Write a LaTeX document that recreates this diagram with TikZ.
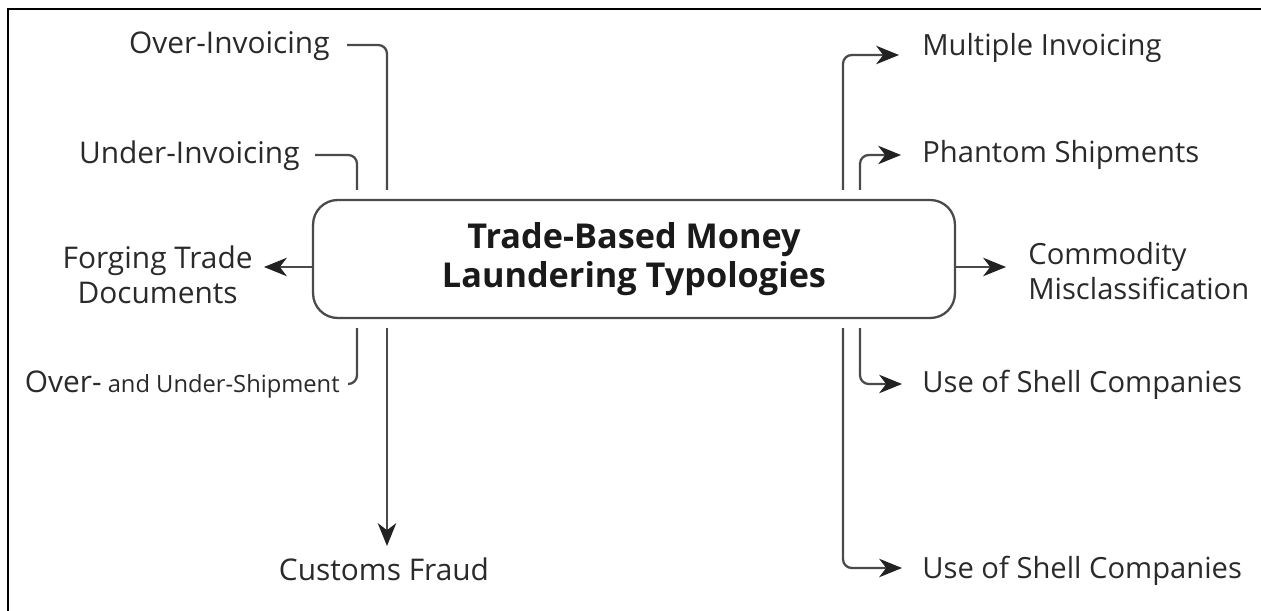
\documentclass[tikz,border=0pt]{standalone}
\usepackage{fontspec}
\setmainfont{Open Sans}
\usetikzlibrary{arrows.meta}
\definecolor{txt}{HTML}{2A2A2A}
\definecolor{ink}{HTML}{1A1A1A}
\definecolor{wire}{HTML}{4A4A4A}
\definecolor{tipc}{HTML}{222222}
\tikzset{
  lbl/.style={inner sep=0pt, text=txt, font=\fontsize{17}{20}\selectfont},
  rlbl/.style={lbl, font=\fontsize{16.6}{20}\selectfont},
  twoline/.style={lbl, align=center, font=\fontsize{17}{20}\selectfont},
  mainbox/.style={draw=wire, line width=1.3pt, rounded corners=14pt,
    minimum width=12.84cm, minimum height=2.36cm, align=center, text=ink,
    font=\bfseries\fontsize{19.5}{22.5}\selectfont},
  conn/.style={draw=wire, line width=1.3pt, rounded corners=5pt},
  arr/.style={conn, -{Stealth[length=13pt,width=10.5pt,inset=4pt,color=tipc]}},
}
\begin{document}
\begin{tikzpicture}[x=0.02cm,y=-0.02cm]
\useasboundingbox (0,0) rectangle (1261,611);
% outer frame
\draw[line width=1.2pt, black] (8,611) -- (8,9) -- (1261,9);

% central box
\node[mainbox] (tb) at (634,259) {Trade-Based Money\\Laundering Typologies};

% left labels
\node[lbl, anchor=base east] (oi) at (330,54) {Over-Invoicing};
\node[lbl, anchor=base east] (ui) at (300,164) {Under-Invoicing};
\node[twoline, anchor=east] (fg) at (253,275) {Forging Trade\\Documents};
\node[lbl, anchor=base east] (ous) at (340,392) {Over-{\fontsize{13.5}{16}\selectfont\ and Under-Shipment}};
\node[lbl, anchor=base] (cf) at (384,580) {Customs Fraud};

% right labels
\node[rlbl, anchor=base west] (mi) at (922,56) {Multiple Invoicing};
\node[rlbl, anchor=base west] (ps) at (922,163) {Phantom Shipments};
\node[twoline, rlbl, anchor=west, align=left] (cm) at (1028,271) {Commodity\\Misclassification};
\node[rlbl, anchor=base west] (sc1) at (922,392) {Use of Shell Companies};
\node[rlbl, anchor=base west] (sc2) at (922,578) {Use of Shell Companies};

% connector end points next to the box
\coordinate (oiE) at (387,190);
\coordinate (uiE) at (357,190);
\coordinate (ousS) at (357,328);
\coordinate (cfS) at (387,328);
\coordinate (cfE) at (387,546);
\coordinate (miS) at (843,190);
\coordinate (psS) at (860,190);
\coordinate (sc1S) at (860,328);
\coordinate (sc2S) at (843,328);

% incoming lines (left, top)
\draw[conn] ([xshift=0.34cm]oi.east |- 0,45) -| (oiE);
\draw[conn] ([xshift=0.30cm]ui.east |- 0,155) -| (uiE);
\draw[conn] (ousS) |- ([xshift=0.16cm]ous.east |- 0,384);

% outgoing arrows
\draw[arr] (tb.west |- 0,267) -- ([xshift=0.22cm]fg.east |- 0,267);
\draw[arr] (cfS) -- (cfE);
\draw[arr] (miS) |- ([xshift=-0.46cm]mi.west |- 0,55);
\draw[arr] (psS) |- ([xshift=-0.42cm]ps.west |- 0,155);
\draw[arr] (tb.east |- 0,267) -- ([xshift=-0.44cm]cm.west |- 0,267);
\draw[arr] (sc1S) |- ([xshift=-0.40cm]sc1.west |- 0,384);
\draw[arr] (sc2S) |- ([xshift=-0.40cm]sc2.west |- 0,568);
\end{tikzpicture}
\end{document}
